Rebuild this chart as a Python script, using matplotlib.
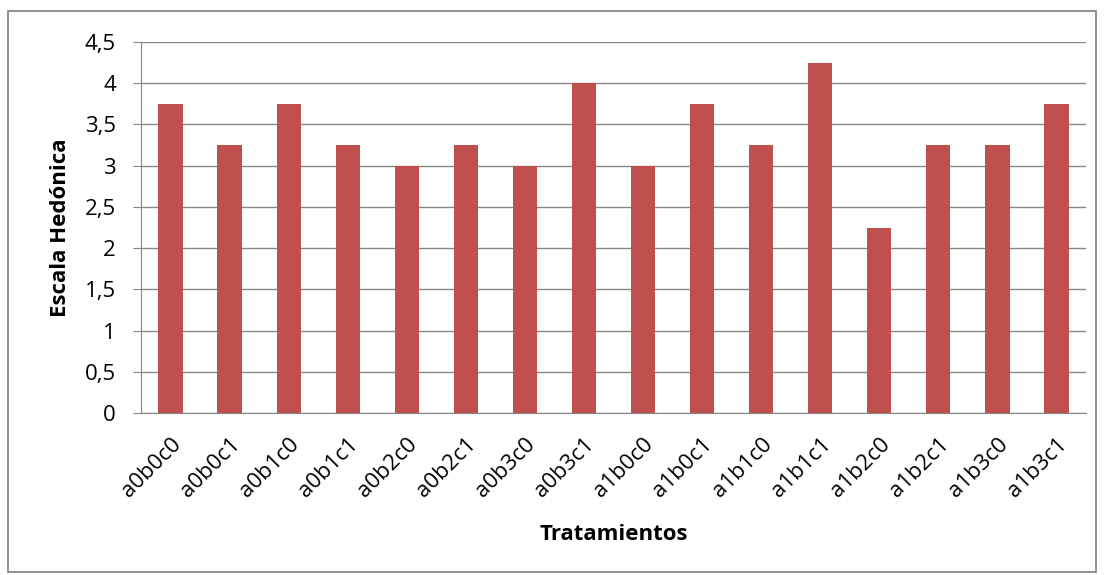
import matplotlib.pyplot as plt
from matplotlib.patches import Rectangle

tratamientos = ["a0b0c0", "a0b0c1", "a0b1c0", "a0b1c1", "a0b2c0", "a0b2c1",
                "a0b3c0", "a0b3c1", "a1b0c0", "a1b0c1", "a1b1c0", "a1b1c1",
                "a1b2c0", "a1b2c1", "a1b3c0", "a1b3c1"]
escala = [3.75, 3.25, 3.75, 3.25, 3.0, 3.25, 3.0, 4.0,
          3.0, 3.75, 3.25, 4.25, 2.25, 3.25, 3.25, 3.75]
yticks = [0, 0.5, 1, 1.5, 2, 2.5, 3, 3.5, 4, 4.5]
ytick_labels = ["0", "0,5", "1", "1,5", "2", "2,5", "3", "3,5", "4", "4,5"]

plt.rcParams['font.family'] = ['Open Sans', 'DejaVu Sans']

W, H = 1104, 575
fig = plt.figure(figsize=(W / 100, H / 100), dpi=100)
ax = fig.add_axes([141 / W, 1 - 413 / H, (1086 - 141) / W, (413 - 42) / H])

# marco exterior del grafico
fig.patches.append(Rectangle((8 / W, 1 - 572 / H), (1096 - 8) / W, (572 - 11) / H,
                             transform=fig.transFigure, fill=False,
                             edgecolor="#898989", linewidth=1.3))

x = range(len(tratamientos))
ax.bar(x, escala, width=0.41, color="#C0504D", zorder=3)

ax.set_xlim(-0.5, len(tratamientos) - 0.5)
ax.set_ylim(0, 4.5)
ax.set_yticks(yticks)
ax.set_yticklabels(ytick_labels, fontsize=16)
ax.set_xticks(list(x))
ax.set_xticklabels(tratamientos, rotation=45, ha="right", rotation_mode="anchor",
                   fontsize=16)
ax.tick_params(axis="x", length=0, pad=15)
ax.tick_params(axis="y", length=6, color="#868686", pad=12)

ax.grid(axis="y", color="#868686", linewidth=1, zorder=0)
for s in ["top", "right"]:
    ax.spines[s].set_visible(False)
ax.spines["left"].set_color("#868686")
ax.spines["bottom"].set_color("#868686")
ax.spines["left"].set_zorder(4)
ax.spines["bottom"].set_zorder(4)

ax.set_ylabel("Escala Hedónica", fontsize=16, fontweight="bold")
ax.set_xlabel("Tratamientos", fontsize=16, fontweight="bold")
ax.yaxis.set_label_coords(60 / W, 1 - 228 / H, transform=fig.transFigure)
ax.xaxis.set_label_coords(614 / W, 1 - 534 / H, transform=fig.transFigure)
ax.yaxis.label.set_va("center")
ax.xaxis.label.set_va("center")

fig.savefig("out.png", dpi=100)
